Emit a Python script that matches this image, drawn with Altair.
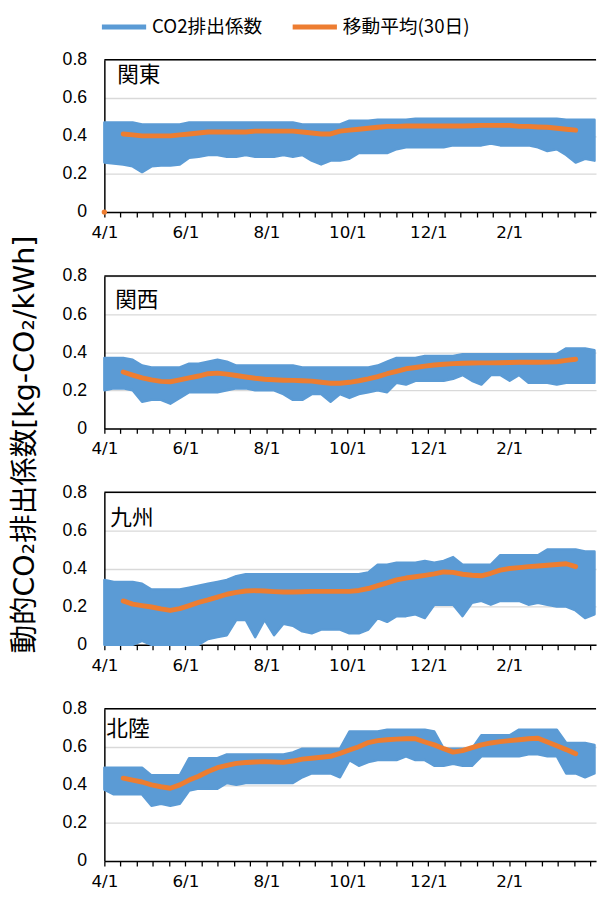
import altair as alt
import pandas as pd

# ---------------- data ----------------
REGIONS = ["関東", "関西", "九州", "北陸"]
LEG_HOURLY = "CO2排出係数"
LEG_MA = "移動平均(30日)"
Y_TITLE = "動的CO₂排出係数[kg-CO₂/kWh]"
TICK_LABELS = ["4/1", "6/1", "8/1", "10/1", "12/1", "2/1"]
Y_TICKS = [0, 0.2, 0.4, 0.6, 0.8]

# sampling positions (days since 4/1), one per week
BAND_DAYS = [round(7.08 * k, 2) for k in range(53)]
MA_DAYS = BAND_DAYS[2:51]

KANTO_LO = [0.26, 0.255, 0.25, 0.24, 0.21, 0.24, 0.245, 0.245, 0.25, 0.285, 0.29, 0.30, 0.30, 0.29,
            0.29, 0.30, 0.29, 0.29, 0.29, 0.30, 0.29, 0.30, 0.27, 0.25, 0.27, 0.27, 0.28, 0.31, 0.31,
            0.31, 0.31, 0.33, 0.34, 0.34, 0.34, 0.34, 0.34, 0.35, 0.35, 0.35, 0.35, 0.36, 0.35, 0.35,
            0.35, 0.35, 0.34, 0.32, 0.33, 0.30, 0.26, 0.28, 0.27]
KANTO_HI = [0.47, 0.47, 0.47, 0.47, 0.46, 0.46, 0.46, 0.46, 0.46, 0.47, 0.47, 0.47, 0.47, 0.47,
            0.47, 0.47, 0.47, 0.47, 0.47, 0.47, 0.47, 0.46, 0.46, 0.46, 0.46, 0.46, 0.48, 0.48, 0.48,
            0.485, 0.485, 0.485, 0.485, 0.49, 0.49, 0.49, 0.49, 0.49, 0.49, 0.49, 0.49, 0.49, 0.49,
            0.49, 0.49, 0.49, 0.49, 0.49, 0.49, 0.485, 0.485, 0.485, 0.485]
KANTO_MA = [0.41, 0.405, 0.40, 0.40, 0.40, 0.40, 0.405, 0.41, 0.415, 0.42, 0.42, 0.42, 0.42, 0.42,
            0.425, 0.425, 0.425, 0.425, 0.425, 0.42, 0.415, 0.41, 0.41, 0.425, 0.43, 0.435, 0.44,
            0.445, 0.45, 0.45, 0.452, 0.452, 0.452, 0.452, 0.452, 0.452, 0.452, 0.453, 0.455, 0.455,
            0.455, 0.455, 0.45, 0.45, 0.447, 0.445, 0.44, 0.435, 0.43]
KANTO_MA_FIRST = [0.0]  # stray first value of the moving average at 4/1

KANSAI_LO = [0.20, 0.21, 0.21, 0.20, 0.14, 0.15, 0.15, 0.13, 0.16, 0.19, 0.19, 0.19, 0.19, 0.20,
             0.21, 0.21, 0.20, 0.20, 0.20, 0.18, 0.15, 0.15, 0.18, 0.18, 0.14, 0.18, 0.16, 0.18,
             0.19, 0.20, 0.19, 0.24, 0.23, 0.25, 0.25, 0.25, 0.25, 0.26, 0.28, 0.25, 0.23, 0.28,
             0.28, 0.25, 0.28, 0.24, 0.24, 0.24, 0.23, 0.24, 0.24, 0.24, 0.24]
KANSAI_HI = [0.37, 0.37, 0.37, 0.36, 0.33, 0.32, 0.32, 0.32, 0.32, 0.34, 0.34, 0.35, 0.36, 0.35,
             0.33, 0.33, 0.33, 0.33, 0.33, 0.33, 0.33, 0.32, 0.32, 0.32, 0.32, 0.32, 0.32, 0.32,
             0.32, 0.33, 0.35, 0.37, 0.37, 0.37, 0.38, 0.38, 0.38, 0.38, 0.39, 0.39, 0.39, 0.39,
             0.39, 0.39, 0.39, 0.39, 0.39, 0.39, 0.39, 0.42, 0.42, 0.42, 0.41]
KANSAI_MA = [0.296, 0.28, 0.265, 0.255, 0.247, 0.245, 0.255, 0.265, 0.275, 0.287, 0.29, 0.285,
             0.278, 0.27, 0.263, 0.258, 0.255, 0.253, 0.252, 0.25, 0.248, 0.242, 0.237, 0.237,
             0.242, 0.25, 0.26, 0.272, 0.287, 0.30, 0.313, 0.32, 0.327, 0.333, 0.337, 0.34, 0.342,
             0.343, 0.344, 0.344, 0.345, 0.346, 0.347, 0.347, 0.347, 0.348, 0.35, 0.357, 0.363]

KYUSHU_LO = [0.0, 0.0, 0.0, 0.0, 0.02, 0.0, 0.0, 0.0, 0.0, 0.0, 0.0, 0.03, 0.04, 0.05, 0.13, 0.13,
             0.04, 0.13, 0.05, 0.11, 0.10, 0.07, 0.06, 0.08, 0.08, 0.08, 0.06, 0.06, 0.08, 0.14,
             0.12, 0.15, 0.15, 0.16, 0.14, 0.21, 0.21, 0.21, 0.15, 0.22, 0.23, 0.21, 0.23, 0.23,
             0.23, 0.21, 0.22, 0.21, 0.20, 0.20, 0.18, 0.14, 0.16]
KYUSHU_HI = [0.34, 0.33, 0.33, 0.33, 0.32, 0.29, 0.29, 0.29, 0.29, 0.30, 0.31, 0.32, 0.33, 0.34,
             0.36, 0.37, 0.37, 0.37, 0.37, 0.37, 0.37, 0.37, 0.37, 0.37, 0.37, 0.37, 0.37, 0.37,
             0.38, 0.42, 0.42, 0.43, 0.43, 0.43, 0.44, 0.43, 0.44, 0.46, 0.42, 0.42, 0.42, 0.42,
             0.47, 0.47, 0.47, 0.47, 0.47, 0.50, 0.50, 0.50, 0.50, 0.49, 0.49]
KYUSHU_MA = [0.23, 0.213, 0.205, 0.198, 0.188, 0.18, 0.19, 0.205, 0.222, 0.235, 0.25, 0.265,
             0.275, 0.282, 0.284, 0.282, 0.279, 0.277, 0.277, 0.278, 0.28, 0.28, 0.28, 0.28, 0.28,
             0.285, 0.295, 0.31, 0.325, 0.34, 0.35, 0.357, 0.364, 0.372, 0.382, 0.38, 0.37, 0.365,
             0.362, 0.375, 0.392, 0.40, 0.405, 0.41, 0.413, 0.417, 0.421, 0.425, 0.41]

HOKURIKU_LO = [0.375, 0.35, 0.35, 0.35, 0.35, 0.29, 0.30, 0.29, 0.30, 0.37, 0.38, 0.38, 0.38,
               0.41, 0.40, 0.41, 0.41, 0.41, 0.41, 0.41, 0.41, 0.44, 0.46, 0.46, 0.46, 0.44, 0.53,
               0.50, 0.52, 0.53, 0.53, 0.53, 0.55, 0.53, 0.53, 0.50, 0.50, 0.51, 0.50, 0.50, 0.55,
               0.55, 0.55, 0.55, 0.55, 0.56, 0.56, 0.55, 0.55, 0.46, 0.46, 0.44, 0.46]
HOKURIKU_HI = [0.49, 0.49, 0.49, 0.49, 0.49, 0.45, 0.45, 0.45, 0.45, 0.54, 0.54, 0.54, 0.54,
               0.56, 0.56, 0.56, 0.56, 0.56, 0.56, 0.56, 0.57, 0.59, 0.59, 0.59, 0.59, 0.59, 0.68,
               0.68, 0.68, 0.68, 0.69, 0.69, 0.69, 0.69, 0.69, 0.68, 0.59, 0.59, 0.59, 0.59, 0.66,
               0.66, 0.66, 0.66, 0.69, 0.69, 0.69, 0.69, 0.69, 0.62, 0.62, 0.62, 0.61]
HOKURIKU_MA = [0.435, 0.425, 0.415, 0.40, 0.39, 0.382, 0.40, 0.425, 0.445, 0.47, 0.49, 0.502,
               0.513, 0.517, 0.52, 0.522, 0.52, 0.518, 0.525, 0.535, 0.54, 0.545, 0.55, 0.565,
               0.583, 0.60, 0.622, 0.632, 0.637, 0.64, 0.642, 0.642, 0.625, 0.61, 0.59, 0.572,
               0.58, 0.595, 0.61, 0.62, 0.627, 0.632, 0.637, 0.642, 0.645, 0.625, 0.605, 0.585,
               0.563]

# ---------------- styling / layout ----------------
BLUE = "#5B9BD5"
ORANGE = "#ED7D31"
CJK = "Noto Sans CJK JP"
W, H = 500, 155
GAP = 65
X_MAX = 369.3
TICK_STEP = 365 / 30
X_TICKS = [round(i * TICK_STEP, 4) for i in range(31)]
LABEL_DAYS = [round(5 * i * TICK_STEP, 4) for i in range(len(TICK_LABELS))]
X_LABEL_EXPR = ""
for d, t in zip(LABEL_DAYS, TICK_LABELS):
    X_LABEL_EXPR += f"abs(datum.value - {d}) < 0.5 ? '{t}' : "
X_LABEL_EXPR += "''"

x_scale = alt.Scale(domain=[0, X_MAX], nice=False, zero=False)
y_scale = alt.Scale(domain=[0, 0.8], nice=False)
stroke_scale = alt.Scale(domain=[LEG_HOURLY, LEG_MA], range=[BLUE, ORANGE])
stroke_legend = alt.Legend(title=None)


def panel(name, lo, hi, ma, label_dx, label_dy, with_title=False, first=None):
    band = pd.DataFrame({"day": BAND_DAYS, "lo": lo, "hi": hi, "series": LEG_HOURLY})
    avg = pd.DataFrame({"day": MA_DAYS, "ma": ma, "series": LEG_MA})
    lab = pd.DataFrame({"name": [name]})

    x_axis = alt.Axis(values=X_TICKS, labelExpr=X_LABEL_EXPR, title=None,
                      labelOverlap=False, labelFlush=False)
    if with_title:
        y_axis = alt.Axis(values=Y_TICKS, format=".1~f", labelOverlap=False, title=Y_TITLE,
                          titleX=-81, titleY=171, titleBaseline="middle", titleAngle=270)
    else:
        y_axis = alt.Axis(values=Y_TICKS, format=".1~f", labelOverlap=False, title=None)

    def xe():
        return alt.X("day:Q", scale=x_scale, axis=x_axis)

    area = alt.Chart(band).mark_area(fill=BLUE, strokeWidth=2.5, strokeJoin="round").encode(
        x=xe(),
        y=alt.Y("lo:Q", scale=y_scale, axis=y_axis),
        y2="hi:Q",
        stroke=alt.Stroke("series:N", scale=stroke_scale, legend=stroke_legend),
    )
    line = alt.Chart(avg).mark_line(strokeWidth=5, strokeCap="round", strokeJoin="round").encode(
        x=xe(),
        y=alt.Y("ma:Q", scale=y_scale, axis=y_axis),
        stroke=alt.Stroke("series:N", scale=stroke_scale, legend=stroke_legend),
    )
    text = alt.Chart(lab).mark_text(align="left", baseline="middle", font=CJK, fontSize=22,
                                    color="black").encode(
        x=alt.value(label_dx), y=alt.value(label_dy), text="name:N"
    )
    top = alt.Chart(lab).mark_rule(color="black", strokeWidth=1.5).encode(
        x=alt.value(0), x2=alt.value(W), y=alt.value(0)
    )
    layers = [area, line, text, top]
    if first is not None:
        dot = alt.Chart(pd.DataFrame({"day": [0], "v": first})).mark_circle(
            color=ORANGE, size=30, opacity=1).encode(
            x=xe(),
            y=alt.Y("v:Q", scale=y_scale, axis=y_axis),
        )
        layers.append(dot)
    return alt.layer(*layers).properties(width=W, height=H)


p1 = panel(REGIONS[0], KANTO_LO, KANTO_HI, KANTO_MA, 13, 16, first=KANTO_MA_FIRST)
p2 = panel(REGIONS[1], KANSAI_LO, KANSAI_HI, KANSAI_MA, 11, 25, with_title=True)
p3 = panel(REGIONS[2], KYUSHU_LO, KYUSHU_HI, KYUSHU_MA, 6, 26)
p4 = panel(REGIONS[3], HOKURIKU_LO, HOKURIKU_HI, HOKURIKU_MA, 2, 21)

chart = (
    alt.vconcat(p1, p2, p3, p4, spacing=GAP, bounds="flush")
    .properties(padding={"left": 2, "top": 0, "right": 0, "bottom": 0}, background="white")
    .configure_view(stroke=None)
    .configure_axis(domainColor="black", domainWidth=1.5, labelColor="black",
                    gridColor="#D9D9D9", gridWidth=1.3, tickColor="black")
    .configure_axisX(grid=False, ticks=True, tickSize=5, tickWidth=1.3, labelFont="DejaVu Sans",
                     labelFontSize=17, labelPadding=8)
    .configure_axisY(grid=True, ticks=False, labelFont="Liberation Sans", labelFontSize=18,
                     labelPadding=18, titleFont="DejaVu Sans, Noto Sans CJK JP",
                     titleFontSize=29, titleFontWeight="normal", titleColor="black")
    .configure_legend(orient="none", legendX=8.5, legendY=-45, direction="horizontal",
                      symbolType="M-2.5,0H2.5", symbolSize=324, symbolStrokeWidth=5,
                      labelFont=CJK, labelFontSize=19, labelColor="black", labelOffset=17,
                      columnPadding=20, padding=0)
)

chart.save("out.html", embed_options={"renderer": "svg", "actions": False})
